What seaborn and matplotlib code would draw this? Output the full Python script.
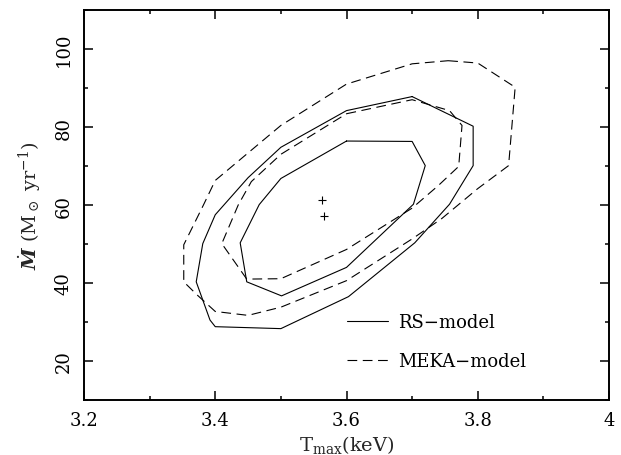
import numpy as np
import pandas as pd
import matplotlib
matplotlib.use("Agg")
import matplotlib.pyplot as plt
import seaborn as sns
from matplotlib.lines import Line2D
from matplotlib.ticker import MultipleLocator, FixedLocator

# ---------------- data ----------------
rs_inner_x = [3.600, 3.700, 3.720, 3.702, 3.600, 3.501, 3.448, 3.438, 3.467, 3.500, 3.600]
rs_inner_y = [76.4, 76.3, 70.1, 60.2, 44.0, 36.7, 40.3, 50.3, 60.1, 66.8, 76.4]

rs_outer_x = [3.700, 3.793, 3.793, 3.757, 3.704, 3.603, 3.500, 3.400, 3.392, 3.371,
              3.381, 3.400, 3.450, 3.500, 3.600, 3.700]
rs_outer_y = [87.8, 80.2, 70.1, 60.2, 50.3, 36.5, 28.3, 28.8, 30.5, 40.3,
              50.1, 57.5, 67.0, 74.8, 84.2, 87.8]

meka_inner_x = [3.600, 3.700, 3.757, 3.776, 3.771, 3.740, 3.700, 3.600, 3.500, 3.448,
                3.410, 3.435, 3.455, 3.500, 3.600]
meka_inner_y = [83.4, 87.0, 84.2, 80.4, 69.9, 65.0, 59.2, 48.6, 41.1, 41.0,
                50.1, 60.0, 66.0, 73.0, 83.4]

meka_outer_x = [3.755, 3.800, 3.857, 3.847, 3.800, 3.745, 3.700, 3.600, 3.500, 3.450,
                3.400, 3.372, 3.352, 3.352, 3.382, 3.400, 3.500, 3.600, 3.700, 3.755]
meka_outer_y = [97.0, 96.4, 90.2, 70.1, 64.2, 56.5, 51.3, 40.6, 33.8, 31.7,
                32.7, 37.0, 40.3, 49.8, 60.0, 66.3, 80.4, 91.0, 96.2, 97.0]

best_x = [3.563, 3.566]
best_y = [61.4, 57.2]

legend_labels = ["RS\u2212model", "MEKA\u2212model"]
x_ticks = [3.2, 3.4, 3.6, 3.8, 4.0]
x_ticklabels = ["3.2", "3.4", "3.6", "3.8", "4"]
y_ticks = [20, 40, 60, 80, 100]
y_ticklabels = ["20", "40", "60", "80", "100"]

# ---------------- style ----------------
sns.set_theme(style="ticks")
plt.rcParams["font.family"] = ["DejaVu Serif"]
plt.rcParams["mathtext.fontset"] = "dejavuserif"
plt.rcParams["lines.scale_dashes"] = False
plt.rcParams["axes.edgecolor"] = "black"
plt.rcParams["text.color"] = "black"

W, H = 621, 456
fig = plt.figure(figsize=(W / 100, H / 100), dpi=100)
ax = fig.add_axes([84 / W, 1 - 401 / H, 525 / W, 390 / H])

lw = 0.8
dash = (0, (7.0, 4.0))

contours = [
    (rs_inner_x, rs_inner_y, "-"),
    (rs_outer_x, rs_outer_y, "-"),
    (meka_inner_x, meka_inner_y, dash),
    (meka_outer_x, meka_outer_y, dash),
]
for cx, cy, ls in contours:
    df = pd.DataFrame({"x": cx, "y": cy})
    sns.lineplot(data=df, x="x", y="y", sort=False, estimator=None, color="black",
                 linewidth=lw, linestyle=ls, ax=ax, legend=False)

sns.scatterplot(x=best_x, y=best_y, marker="+", s=36, color="black",
                linewidth=0.8, ax=ax, legend=False)

ax.set_xlim(3.2, 4.0)
ax.set_ylim(10, 110)
ax.xaxis.set_major_locator(FixedLocator(x_ticks))
ax.set_xticklabels(x_ticklabels)
ax.xaxis.set_minor_locator(MultipleLocator(0.1))
ax.yaxis.set_major_locator(FixedLocator(y_ticks))
ax.set_yticklabels(y_ticklabels, rotation=90, va="center")
ax.yaxis.set_minor_locator(MultipleLocator(10))

ax.tick_params(which="both", direction="in", top=True, right=True,
               color="black", width=1.1, labelsize=13, labelcolor="black")
ax.tick_params(which="major", length=6.5, pad=8)
ax.tick_params(which="minor", length=3.2)
for s in ax.spines.values():
    s.set_linewidth(1.4)
    s.set_color("black")

ax.set_xlabel(r"T$_{\rm max}$(keV)", fontsize=14)
ax.set_ylabel(r"$\dot{\boldsymbol{M}}$ (M$_\odot$ yr$^{-1}$)", fontsize=14)
ax.xaxis.set_label_coords(0.5, (401 - 434) / 390)
ax.yaxis.set_label_coords((43 - 84) / 525, 0.5)

handles = [Line2D([], [], color="black", lw=lw, ls="-"),
           Line2D([], [], color="black", lw=lw, ls=dash)]
ax.legend(handles, legend_labels, loc="upper left",
          bbox_to_anchor=((346.7 - 84) / 525, (401 - 314.5) / 390),
          frameon=False, fontsize=13, handlelength=2.3, handletextpad=0.55,
          labelspacing=1.14, borderpad=0, borderaxespad=0)

fig.savefig("out.png", dpi=100)
